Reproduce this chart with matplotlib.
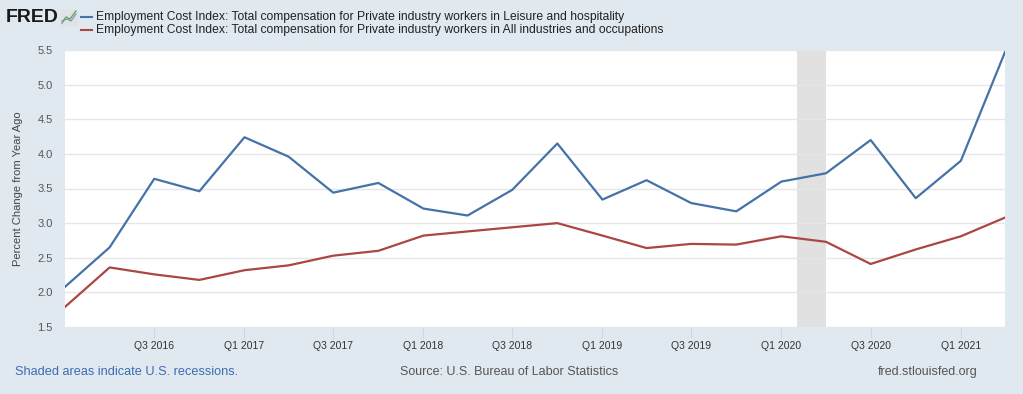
import pandas as pd
import matplotlib
matplotlib.use("Agg")
from matplotlib import pyplot as plt
from matplotlib.patches import FancyBboxPatch

quarters = pd.date_range("2016-01-01", "2021-04-01", freq="QS")
leisure = [2.08, 2.65, 3.64, 3.46, 4.24, 3.96, 3.44, 3.58, 3.21, 3.11, 3.48,
           4.15, 3.34, 3.62, 3.29, 3.17, 3.60, 3.72, 4.20, 3.36, 3.90, 5.47]
all_ind = [1.79, 2.36, 2.26, 2.18, 2.32, 2.39, 2.53, 2.60, 2.82, 2.88, 2.94,
           3.00, 2.82, 2.64, 2.70, 2.69, 2.81, 2.73, 2.41, 2.62, 2.81, 3.08]
tick_dates = pd.date_range("2016-07-01", "2021-01-01", freq="2QS-JAN")
tick_labels = ["Q3 2016", "Q1 2017", "Q3 2017", "Q1 2018", "Q3 2018",
               "Q1 2019", "Q3 2019", "Q1 2020", "Q3 2020", "Q1 2021"]
recession = (pd.Timestamp("2020-02-01"), pd.Timestamp("2020-04-01"))
legend_labels = [
    "Employment Cost Index: Total compensation for Private industry workers in Leisure and hospitality",
    "Employment Cost Index: Total compensation for Private industry workers in All industries and occupations",
]

bg = "#e1e9f0"
blue = "#4572a7"
red = "#aa4643"
plt.rcParams["font.family"] = ["Liberation Sans", "DejaVu Sans"]

fig = plt.figure(figsize=(10.23, 3.94), dpi=100, facecolor=bg)
ax = fig.add_axes([65/1023, 1-327/394, 940/1023, 277/394])
ax.set_facecolor("white")

ax.axvspan(recession[0], recession[1], color="#e1e1e1", lw=0, zorder=1)
ax.plot(quarters, leisure, color=blue, lw=1.6, zorder=3)
ax.plot(quarters, all_ind, color=red, lw=1.6, zorder=3)

ax.set_xlim(quarters[0], quarters[-1])
ax.set_ylim(1.5, 5.5)
ax.set_yticks([1.5, 2.0, 2.5, 3.0, 3.5, 4.0, 4.5, 5.0, 5.5])
ax.set_yticklabels([f"{v:.1f}" for v in ax.get_yticks()])
ax.grid(axis="y", color="#e6e6e6", lw=1, zorder=0)
ax.set_xticks(tick_dates)
ax.set_xticklabels(tick_labels)
ax.tick_params(axis="x", length=8, color="#ccd6eb", labelsize=7.5, labelcolor="#333333", pad=2)
ax.tick_params(axis="y", length=0, labelsize=8, labelcolor="#555555", pad=9)
for s in ax.spines.values():
    s.set_visible(False)
ax.set_ylabel("Percent Change from Year Ago", fontsize=8, color="#444444", labelpad=10)

# header: FRED logo
fig.text(6/1023, 1-17/394, "FRED", fontsize=14, fontweight="heavy", color="#1a1a1a", va="center")
fig.patches.append(FancyBboxPatch((61/1023, 1-26/394), 16/1023, 16/394, boxstyle="round,pad=0.001",
                                  transform=fig.transFigure, fc="#dfe3e6", ec="none"))
fig.lines.append(plt.Line2D([62/1023, 66/1023, 70/1023, 76/1023], [1-23/394, 1-17/394, 1-19/394, 1-11/394],
                            transform=fig.transFigure, color="#6aa84f", lw=1))
fig.lines.append(plt.Line2D([62/1023, 67/1023, 71/1023, 76/1023], [1-21/394, 1-19/394, 1-21/394, 1-14/394],
                            transform=fig.transFigure, color="#6b8fc7", lw=0.8))
for i, (lab, col) in enumerate(zip(legend_labels, [blue, red])):
    y = 1 - (17 + 13*i)/394
    fig.lines.append(plt.Line2D([81/1023, 92/1023], [y, y], transform=fig.transFigure, color=col, lw=1.5))
    fig.text(96/1023, y, lab, fontsize=8.75, color="#222222", va="center")

# footer
fig.text(15/1023, 1-372/394, "Shaded areas indicate U.S. recessions.", fontsize=9.2, color="#3d6bb3", va="center")
fig.text(400/1023, 1-372/394, "Source: U.S. Bureau of Labor Statistics", fontsize=9, color="#555555", va="center")
fig.text(978/1023, 1-372/394, "fred.stlouisfed.org", fontsize=9, color="#555555", va="center", ha="right")

fig.savefig("out.png", dpi=100, facecolor=bg)
